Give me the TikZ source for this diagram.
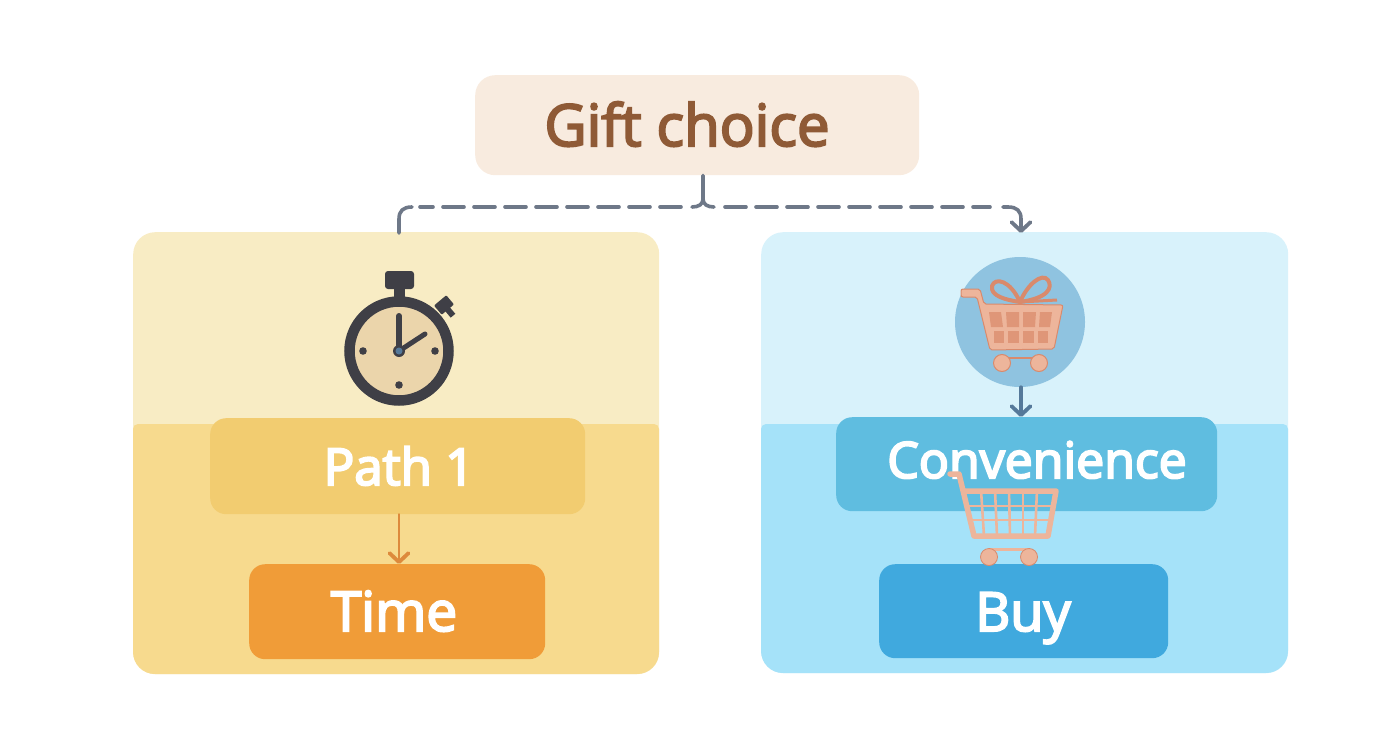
\documentclass[tikz,border=0pt]{standalone}
\usepackage{fontspec}
\usetikzlibrary{arrows.meta}
\newfontfamily\lblfont{Open Sans}
\newcommand{\heavy}[2][2]{\special{pdf:code q 2 Tr #1 w}#2\special{pdf:code Q}}
\definecolor{gifttxt}{HTML}{8F5A36}
\definecolor{giftbox}{HTML}{F8EBDF}
\definecolor{ltop}{HTML}{F8ECC4}
\definecolor{llow}{HTML}{F7DA8E}
\definecolor{rtop}{HTML}{D8F2FB}
\definecolor{rlow}{HTML}{A5E2F9}
\definecolor{pathbox}{HTML}{F2CC70}
\definecolor{timebox}{HTML}{F09C38}
\definecolor{convbox}{HTML}{5FBDE0}
\definecolor{buybox}{HTML}{40A9DE}
\definecolor{conn}{HTML}{6E7888}
\definecolor{connblue}{HTML}{55799A}
\definecolor{connor}{HTML}{DD8A3C}
\definecolor{ink}{HTML}{3F3F46}
\definecolor{face}{HTML}{EBD5AB}
\definecolor{disc}{HTML}{8FC3E0}
\definecolor{cart}{HTML}{EDB59B}
\definecolor{cartd}{HTML}{DF9678}
\definecolor{cartline}{HTML}{D98A6C}
\tikzset{
  box/.style={rounded corners=#1,inner sep=0pt,anchor=north west},
  box/.default=18pt,
  lbl/.style={inner sep=0pt,anchor=base,text=white,font=\lblfont},
  link/.style={draw=conn,line width=3.6pt,line cap=round},
  dashlink/.style={link,dash pattern=on 21pt off 10pt},
  barb/.style={-{Straight Barb[length=9pt,width=19pt,line width=3.8pt,round]}},
}
\begin{document}
\begin{tikzpicture}[x=1pt,y=-1pt]
\useasboundingbox (0,0) rectangle (1392,752);
% panels
\node[box=22pt,fill=ltop,minimum width=526pt,minimum height=442pt] (leftpanel) at (133,232) {};
\node[box=22pt,fill=rtop,minimum width=527pt,minimum height=441pt] (rightpanel) at (761,232) {};
\fill[llow] (133,430) [rounded corners=5pt] -- (133,424) -- (659,424) [rounded corners=0pt] -- (659,640) [rounded corners=22pt] -- (659,674) -- (133,674) [rounded corners=0pt] -- cycle;
\fill[rlow] (761,430) [rounded corners=5pt] -- (761,424) -- (1288,424) [rounded corners=0pt] -- (1288,640) [rounded corners=22pt] -- (1288,673) -- (761,673) [rounded corners=0pt] -- cycle;
% boxes
\node[box=20pt,fill=giftbox,minimum width=444pt,minimum height=100pt] (gift) at (475,75) {};
\node[inner sep=0pt,anchor=base,text=gifttxt,font={\lblfont\fontsize{58}{58}\selectfont}] (gifttext) at (687,146) {\heavy{Gift choice}};
\node[box=16pt,fill=pathbox,minimum width=375pt,minimum height=96pt] (path) at (210,418) {};
\node[lbl,font={\lblfont\fontsize{51}{51}\selectfont}] (pathtext) at (399,485) {\heavy{Path 1}};
\node[box=16pt,fill=timebox,minimum width=296pt,minimum height=95pt] (time) at (249,564) {};
\node[lbl,font={\lblfont\fontsize{55}{55}\selectfont}] (timetext) at (394,631) {\heavy{Time}};
\node[box=16pt,fill=convbox,minimum width=381pt,minimum height=94pt] (conv) at (836,417) {};
\node[lbl,font={\lblfont\fontsize{50}{50}\selectfont}] (convtext) at (1037,478) {\heavy{Convenience}};
\node[box=16pt,fill=buybox,minimum width=289pt,minimum height=94pt] (buy) at (879,564) {};
\node[lbl,font={\lblfont\fontsize{54}{54}\selectfont}] (buytext) at (1023,631) {\heavy{Buy}};
% connectors
\coordinate (split) at (703,207);
\coordinate (lefthit) at (399,233);
\coordinate (righthit) at (1021,233);
\draw[link] (split |- gift.south) -- (703,199) .. controls (703,204) and (699,207) .. (692,207);
\draw[link] (703,199) .. controls (703,204) and (707,207) .. (714,207);
\draw[dashlink] (681,207) -- (420,207);
\draw[link] (412,207) .. controls (403,207) and (399,211) .. (399,219) -- (lefthit);
\draw[dashlink] (725,207) -- (990,207);
\draw[link,barb] (1003,207) -- (1008,207) .. controls (1017,207) and (1021,211) .. (1021,219) -- (righthit);
% stopwatch
\fill[ink,rounded corners=3pt] (385,271) rectangle (414,289);
\fill[ink] (394,287) rectangle (405,302);
\begin{scope}[shift={(444,305)},rotate=40]
\fill[ink,rounded corners=1pt] (-8,-6) rectangle (8,6);
\fill[ink] (-3,5) rectangle (3,14);
\end{scope}
\node[circle,fill=face,draw=ink,line width=10.5pt,minimum size=99pt,inner sep=0pt] (watch) at (399,351) {};
\draw[ink,line width=6pt,line cap=round] (399,351) -- (399,316);
\draw[ink,line width=5pt,line cap=round] (399,351) -- (425,334);
\fill[ink] (363,351) circle (3.8);
\fill[ink] (435,351) circle (3.8);
\fill[ink] (399,385) circle (3.8);
\fill[ink] (399,351) circle (6);
\fill[connblue] (399,351) circle (3.5);
% gift cart
\node[circle,fill=disc,minimum size=130pt,inner sep=0pt] (disc) at (1020,322) {};
\draw[cartline,line width=4pt,line join=round]
  (1020,302) .. controls (1006,300) and (990,296) .. (992,286) .. controls (995,277) and (1010,280) .. (1020,302)
  .. controls (1027,285) and (1042,272) .. (1048,280) .. controls (1053,288) and (1048,298) .. (1020,302);
\draw[cartline,line width=3pt] (1020,302) -- (1057,300);
\draw[cartline,line width=1pt,fill=cart,rounded corners=2pt] (961,289) -- (980,289) -- (984,304) -- (1063,305) -- (1054,349) -- (990,350) -- (977,297) -- (961,297) -- cycle;
\foreach \xa/\xb/\xc/\xd in {989/1001/1003/991, 1006/1019/1019/1007, 1023/1036/1035/1023, 1040/1052/1050/1039}
  \fill[cartd] (\xa,312) -- (\xb,312) -- (\xc,327) -- (\xd,327) -- cycle;
\foreach \xa/\xb in {994/1004, 1008/1019, 1023/1034, 1038/1048}
  \fill[cartd] (\xa,331) rectangle (\xb,343);
\draw[cartline,line width=2pt] (1002,358) -- (1039,358);
\fill[cart,draw=cartline,line width=1pt] (1002,363) circle (8.5);
\fill[cart,draw=cartline,line width=1pt] (1039,363) circle (8.5);
\draw[link,draw=connblue,barb] (disc.south -| righthit) -- (conv.north -| righthit);
% arrow path to time
\draw[link,draw=connor,line width=2.8pt,barb] (path.south -| lefthit) -- (time.north -| lefthit);
% lower cart
\foreach \xa/\xb in {981/984, 995/997, 1009/1010, 1023/1023, 1037/1035}
  \draw[cart,line width=2.6pt] (\xa,490) -- (\xb,536);
\draw[cart,line width=2.6pt] (969,506) -- (1053,506) (971,520) -- (1051,520);
\draw[cart,line width=5.5pt,line cap=round,line join=round] (950,474) -- (959,474) -- (974,536) -- (1048,536) -- (1056,491) -- (965,491);
\draw[cart,line width=3pt] (989,549) -- (1029,549);
\fill[cart,draw=cartline,line width=.8pt] (989,557) circle (8.5);
\fill[cart,draw=cartline,line width=.8pt] (1029,557) circle (8.5);
\end{tikzpicture}
\end{document}
